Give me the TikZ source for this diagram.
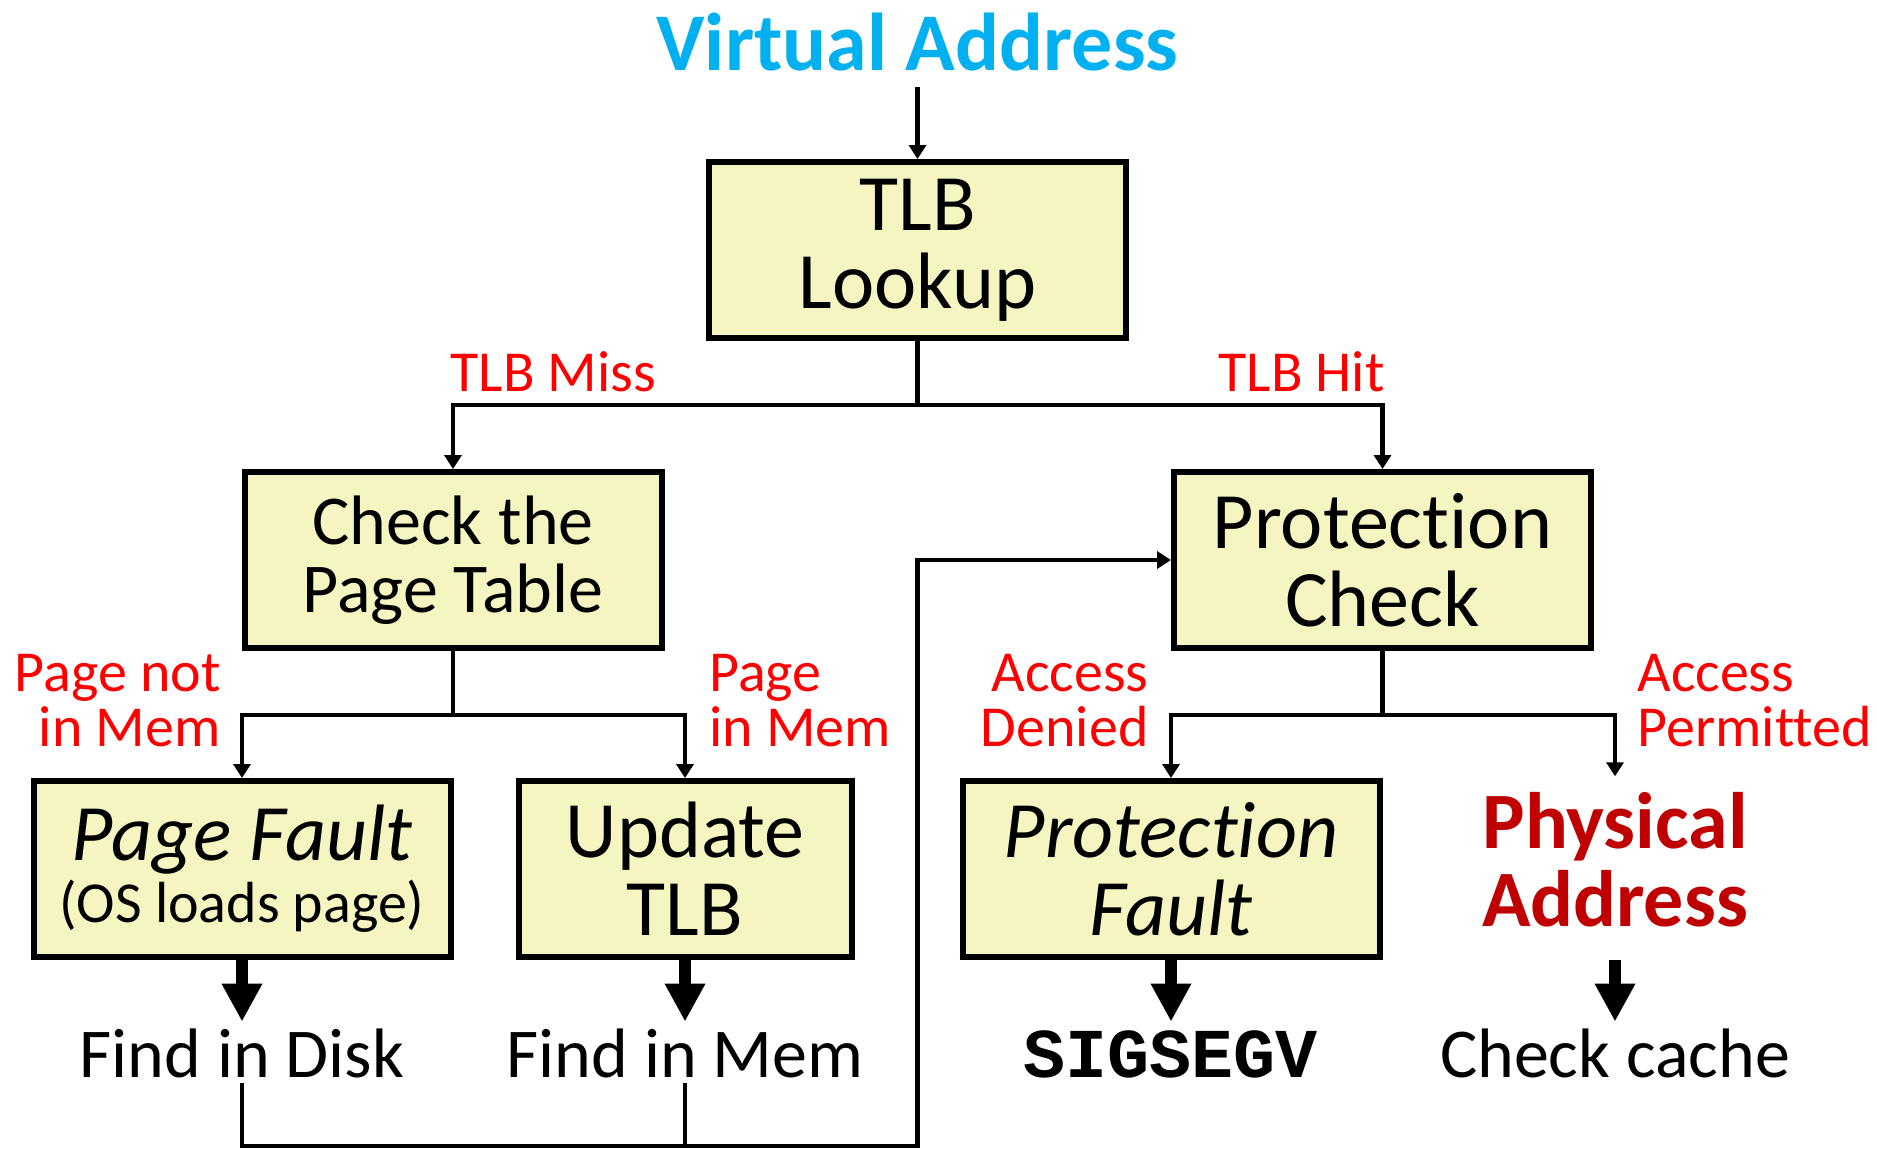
\documentclass[tikz,border=0pt]{standalone}
\usepackage{fontspec}
\setmainfont{Carlito}[Ligatures=CommonOff]
\newfontfamily\codefont{Liberation Mono}
\usetikzlibrary{arrows.meta,positioning,calc}
\definecolor{boxfill}{HTML}{F5F5C1}
\definecolor{vablue}{HTML}{00B0F0}
\definecolor{pared}{HTML}{C00000}

\begin{document}
\begin{tikzpicture}[x=0.5pt,y=-0.5pt,line join=miter,
  box/.style={draw,line width=3pt,fill=boxfill,minimum width=208.5pt,minimum height=88pt,
    inner sep=0pt,align=center,font=\fontsize{40}{39}\selectfont},
  lbl/.style={text=red,inner sep=0pt,font=\fontsize{29}{27.5}\selectfont},
  res/.style={inner sep=3pt,text height=24.5pt,text depth=0pt,font=\fontsize{35}{35}\selectfont},
  wire/.style={line width=2.2pt},
  arr/.style={wire,-{Triangle[length=7pt,width=8.5pt]}},
  bigarr/.style={line width=6pt,-{Triangle[length=19pt,width=19pt]}}]
  \useasboundingbox (0,0) rectangle (1877,1148);
%%
  % Node: va
  \node (va) [anchor=base,inner sep=8pt,text=vablue,font=\bfseries\fontsize{41}{41}\selectfont] at (917.5,70) {Virtual Address};
  % Node: tlb
  \node (tlb) [box] at (917.5,250) {TLB\\Lookup};
  % Node: cpt
  \node (cpt) [box,font=\fontsize{35}{34}\selectfont] at (453,560) {Check the\\Page Table};
  % Node: pc
  \node (pc) [box] at (1382.5,560) {Protection\\Check};
  % Node: pf
  \node (pf) [box] at (242,869) {\textit{Page Fault}\\[-8pt]{\fontsize{29}{29}\selectfont (OS loads page)}};
  % Node: ut
  \node (ut) [box,minimum width=166.5pt] at (685,869) {Update\\TLB};
  % Node: pfault
  \node (pfault) [box,font=\itshape\fontsize{40}{39}\selectfont] at (1171,869) {Protection\\Fault};
  % Node: pa
  \node (pa) [align=center,inner xsep=0pt,inner ysep=8pt,text=pared,font=\bfseries\fontsize{40}{39}\selectfont] at (1615,860) {Physical\\Address};
  % Node: disk, mem, sig, cache
  \node (disk) [res,anchor=base] at (242,1077) {Find in Disk};
  \node (mem) [res,anchor=base] at (685,1077) {Find in Mem};
  \node (sig) [res,anchor=base,font=\codefont\bfseries\fontsize{35}{35}\selectfont] at (1171,1077) {SIGSEGV};
  \node (cache) [res,anchor=base] at (1615,1077) {Check cache};
  % Labels
  \node (miss) [lbl,anchor=south west] at (450,392) {TLB Miss};
  \node (hit) [lbl,anchor=south east] at (1385,392) {TLB Hit};
  \node (notmem) [lbl,anchor=south east,align=right] at (221,747) {Page not\\in Mem};
  \node (inmem) [lbl,anchor=south west,align=left] at (709,747) {Page\\in Mem};
  \node (denied) [lbl,anchor=south east,align=right] at (1149,747) {Access\\Denied};
  \node (permit) [lbl,anchor=south west,align=left] at (1637,747) {Access\\Permitted};
%%
  % Edge: va -> tlb
  \draw [arr] (va) -- (tlb);
  % Edge: tlb -> cpt, pc
  \draw [wire] (tlb.south) -- ++(0,64) coordinate (tlbfork);
  \draw [arr] (tlbfork) -| (cpt);
  \draw [arr] (tlbfork) -| (pc);
  % Edge: cpt -> pf, ut
  \draw [wire] (cpt.south) -- ++(0,64) coordinate (cptfork);
  \draw [arr] (cptfork) -| (pf);
  \draw [arr] (cptfork) -| (ut);
  % Edge: pc -> pfault, pa
  \draw [wire] (pc.south) -- ++(0,64) coordinate (pcfork);
  \draw [arr] (pcfork) -| (pfault);
  \draw [arr] (pcfork) -| (pa);
  % Edge: boxes -> results
  \draw [bigarr] (pf) -- (disk);
  \draw [bigarr] (ut) -- (mem);
  \draw [bigarr] (pfault) -- (sig);
  \draw [bigarr] (pa.south |- pfault.south) -- (cache);
  % Edge: disk, mem -> pc
  \coordinate (loopend) at (917.5,1146);
  \draw [wire] (mem.south) -- (mem.south |- loopend);
  \draw [arr] (disk.south) |- (loopend) |- (pc.west);
%
\end{tikzpicture}
\end{document}
